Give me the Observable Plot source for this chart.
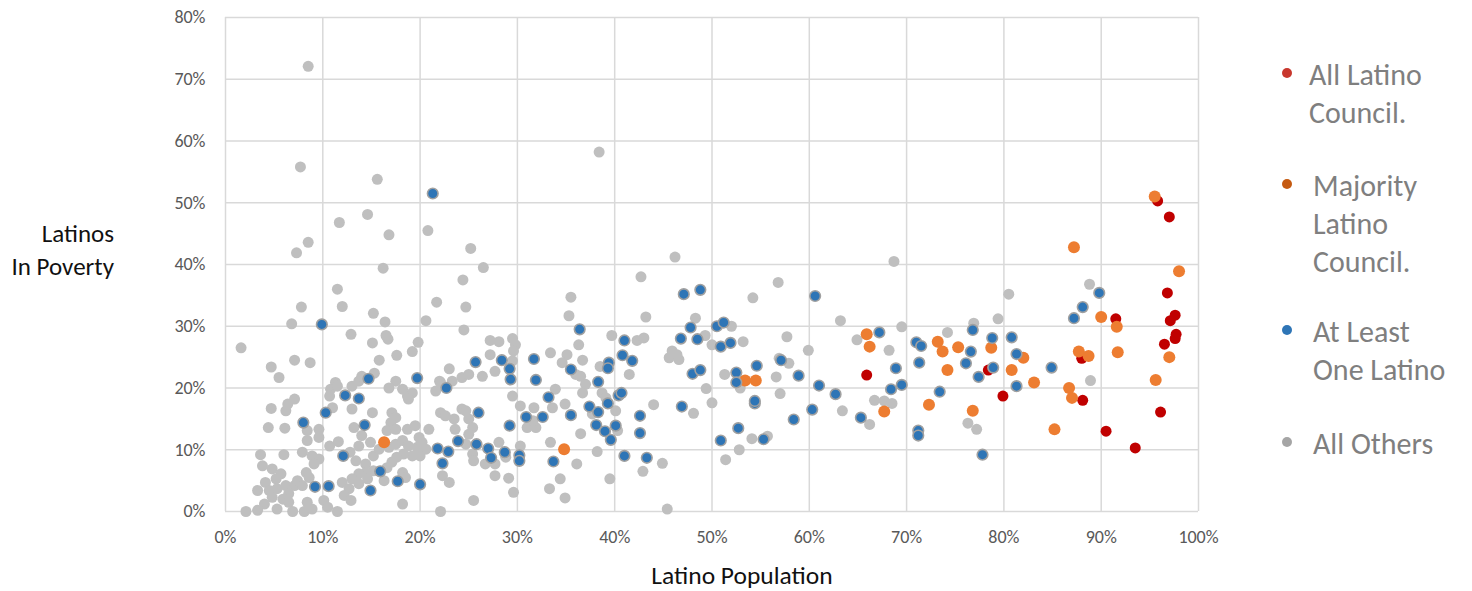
<!DOCTYPE html>
<html>
<head>
<meta charset="utf-8">
<script src="https://cdn.jsdelivr.net/npm/d3@7"></script>
<script src="https://cdn.jsdelivr.net/npm/@observablehq/plot@0.6"></script>
<style>
  html, body { margin: 0; padding: 0; background: #fff; }
  body { width: 1472px; height: 591px; overflow: hidden; font-family: Carlito, Calibri, Lato, "Open Sans", sans-serif; }
  #wrap { position: relative; width: 1472px; height: 591px; }
  #chart { position: absolute; left: 0; top: 0; }
  .ytitle { position: absolute; right: calc(1472px - 114px); top: 217px; text-align: right; font-size: 25px; line-height: 33px; color: #111; white-space: nowrap; }
  .xtitle { position: absolute; left: 742px; top: 559px; transform: translateX(-50%); font-size: 25.5px; line-height: 33px; color: #111; white-space: nowrap; }
  .leg { position: absolute; left: 1278px; font-size: 30px; line-height: 38px; color: #7f7f7f; }
  .leg .b { position: absolute; left: 4px; width: 10px; height: 10px; border-radius: 50%; }
  .leg .t { position: absolute; left: 31px; white-space: nowrap; }
</style>
</head>
<body>
<div id="wrap">
  <div id="chart"></div>
  <div class="ytitle">Latinos<br>In Poverty</div>
  <div class="xtitle">Latino Population</div>
  <div id="legend"></div>
</div>
<script>
// ---- Data (percent values: [Latino Population, Latinos In Poverty]) ----
const xTicks = [0, 10, 20, 30, 40, 50, 60, 70, 80, 90, 100];
const yTicks = [0, 10, 20, 30, 40, 50, 60, 70, 80];

const seriesNames = ["All Latino Council.", "Majority Latino Council.", "At Least One Latino", "All Others"];

const allLatino = [
  [65.9,22.1],[95.8,50.3],[97.0,47.7],[96.8,35.4],[97.6,31.8],[97.1,30.9],[97.7,28.7],[97.6,28.0],
  [96.5,27.1],[91.5,31.2],[88.0,24.8],[78.4,22.9],[79.9,18.7],[88.1,18.0],[96.1,16.1],[90.5,13.0],[93.5,10.3]
];

const majorityLatino = [
  [16.3,11.2],[34.8,10.1],[53.4,21.2],[54.5,21.2],[65.9,28.7],[66.2,26.7],[67.7,16.2],[72.3,17.3],
  [73.2,27.5],[73.7,25.9],[74.2,22.9],[75.3,26.6],[95.5,51.0],[87.2,42.8],[98.0,38.9],[90.0,31.5],
  [91.6,29.9],[91.7,25.8],[97.0,25.0],[87.7,25.9],[88.7,25.2],[95.6,21.3],[78.7,26.5],[82.0,24.9],
  [80.8,22.9],[83.1,20.9],[86.7,20.0],[87.0,18.4],[76.8,16.3],[85.2,13.3]
];

const atLeastOne = [
  [9.9,30.3],[14.7,21.5],[19.7,21.6],[22.7,20.0],[12.3,18.8],[13.7,18.3],[10.3,16.0],[8.0,14.4],
  [14.3,14.0],[23.9,11.4],[21.8,10.2],[22.9,9.7],[22.3,7.8],[12.1,9.0],[15.9,6.5],[17.7,4.9],
  [20.0,4.4],[9.2,4.0],[10.6,4.1],[14.9,3.4],[21.3,51.5],
  [47.1,35.2],[48.8,35.9],[36.4,29.5],[41.0,27.7],[46.8,28.0],[47.8,29.8],[48.5,27.9],[50.5,30.0],
  [51.2,30.6],[25.7,24.2],[28.4,24.5],[29.2,23.1],[29.3,21.4],[31.7,24.7],[31.9,21.3],[35.5,23.0],
  [38.3,21.0],[39.4,24.1],[39.3,23.2],[40.8,25.3],[41.8,24.4],[48.0,22.3],[48.8,22.9],[46.9,17.0],
  [33.2,18.5],[37.4,17.0],[38.3,16.1],[39.3,17.5],[40.4,18.8],[40.7,19.2],[26.0,16.0],[30.9,15.3],
  [32.6,15.3],[35.5,15.6],[29.2,13.9],[38.1,14.0],[39.0,13.0],[40.1,13.9],[39.6,11.6],[42.6,15.5],
  [42.6,12.7],[25.8,10.9],[27.0,10.2],[27.3,8.7],[28.7,9.6],[30.2,9.1],[30.2,8.2],[33.7,8.1],
  [41.0,9.0],[43.3,8.7],
  [60.6,34.9],[50.9,26.7],[51.9,27.3],[57.1,24.5],[54.6,23.6],[52.5,22.5],[52.5,20.9],[58.9,22.0],
  [61.0,20.4],[62.7,19.0],[54.4,17.5],[54.4,17.9],[60.3,16.5],[58.4,14.9],[52.7,13.5],[50.9,11.5],
  [55.3,11.7],[65.3,15.2],[67.2,29.0],[68.9,23.2],[68.4,19.8],[69.5,20.5],[73.4,19.4],[71.0,27.4],
  [71.5,26.8],[71.3,24.1],[71.2,13.1],[71.2,12.3],
  [76.8,29.4],[76.6,25.9],[76.1,24.0],[77.4,21.8],[78.8,28.1],[78.9,23.3],[80.8,28.2],[81.3,25.5],
  [81.3,20.3],[84.9,23.3],[77.8,9.2],[87.2,31.3],[88.1,33.1],[89.8,35.4]
];

const allOthers = [
  [8.5,72.1],[7.7,55.8],[38.4,58.2],[15.6,53.8],[11.7,46.8],[14.6,48.1],[16.8,44.8],[20.8,45.5],
  [25.2,42.6],[8.5,43.6],[7.3,41.9],[46.2,41.2],[16.2,39.4],[26.5,39.5],
  [24.4,37.5],[11.5,36.0],[7.8,33.1],[12.0,33.2],[21.7,33.9],[24.7,33.1],[15.2,32.1],[16.4,30.7],
  [6.8,30.4],[20.6,30.9],[24.5,29.4],[12.9,28.7],[16.5,28.5],[16.7,27.9],[15.1,27.3],[19.8,27.4],
  [1.6,26.5],[19.2,25.9],[17.6,25.3],[7.1,24.5],[8.7,24.1],[4.7,23.4],[15.8,24.5],[23.0,23.1],
  [5.5,21.7],[15.3,22.4],[22.0,21.1],[24.3,21.7],[11.3,20.9],[17.5,21.1],[23.3,21.1],[25.0,22.2],
  [10.8,19.8],[11.5,20.3],[10.7,18.7],[7.1,18.2],[6.4,17.4],[6.2,16.3],[4.7,16.7],[11.0,16.8],
  [4.4,13.6],[6.1,13.5],[8.4,13.1],[9.6,13.3],[9.6,12.0],[8.4,11.5],[10.7,10.6],[11.6,11.3],
  [3.6,9.2],[6.0,9.2],[7.9,9.6],[8.9,9.0],[9.6,8.5],[9.1,7.7],[3.8,7.4],[4.8,6.9],[5.7,6.1],
  [5.2,5.3],[4.1,4.7],[3.3,3.4],[4.5,3.4],[5.3,3.7],[6.2,4.2],[7.1,4.2],[7.4,5.0],[8.3,6.3],
  [8.6,5.5],[7.9,4.2],[6.5,2.9],[5.9,2.0],[4.8,2.3],[4.0,1.2],[3.3,0.2],[2.1,0.0],[5.3,0.4],
  [6.5,1.5],[6.9,0.0],[8.1,0.0],[8.9,0.4],[8.4,1.5],[10.1,1.8],[10.5,0.7],[11.5,0.0],[12.0,4.7],
  [12.7,3.7],[12.2,2.6],[12.9,1.8],
  [13.0,20.3],[13.7,21.1],[14.0,21.9],[16.8,20.0],[18.2,19.8],[18.7,18.7],[19.2,19.2],[18.8,18.2],
  [21.6,19.5],[22.1,20.9],[13.0,16.6],[15.1,16.0],[13.2,13.6],[17.1,16.0],[17.5,15.2],[17.0,14.4],
  [16.6,13.1],[17.5,13.3],[18.7,13.3],[19.5,13.9],[14.0,12.3],[14.9,11.2],[13.7,10.6],[12.8,9.6],
  [13.4,8.2],[14.4,7.7],[15.2,9.0],[15.8,10.1],[16.8,10.4],[17.5,10.9],[18.2,11.5],[18.8,10.6],
  [19.7,10.4],[20.2,11.2],[20.6,10.1],[20.0,9.0],[19.2,9.0],[18.3,9.3],[17.6,8.8],[17.1,8.0],
  [16.6,7.1],[15.2,6.6],[14.4,6.3],[13.7,6.1],[13.0,5.3],[13.7,4.5],[14.6,5.3],[16.3,5.0],
  [18.2,6.3],[18.5,5.5],[18.2,1.2],[19.9,12.0],[20.9,13.3],[22.1,16.0],[22.6,15.5],[23.6,13.3],
  [24.3,16.6],[23.5,15.0],[22.3,5.8],[23.0,4.7],[25.0,15.0],[25.4,13.6],[25.5,1.8],[22.1,0.0],
  [42.7,38.0],[35.5,34.7],[35.3,31.7],[43.2,31.5],[27.2,27.7],[28.1,27.5],[29.5,28.0],[29.8,27.0],
  [29.6,26.0],[27.2,25.4],[27.7,22.7],[26.4,21.9],[29.5,24.4],[33.4,25.7],[35.1,25.4],[34.6,24.1],
  [36.3,27.0],[36.7,24.5],[36.0,22.2],[36.5,21.9],[39.7,28.5],[42.3,27.7],[43.0,28.1],[38.5,23.5],
  [41.5,22.2],[37.0,20.6],[36.7,19.2],[33.9,19.8],[34.9,17.4],[33.6,16.8],[31.7,16.8],[30.3,17.1],
  [29.5,18.7],[31.0,13.6],[31.9,13.6],[31.6,14.7],[38.7,19.2],[39.1,18.4],[40.1,16.3],[37.7,15.8],
  [40.3,13.1],[44.0,17.3],[48.1,15.9],[49.4,19.9],[50.0,17.6],[45.9,26.0],[45.6,24.9],[46.4,25.4],
  [46.6,24.6],[48.3,31.3],[49.3,28.5],[50.0,27.0],[24.7,16.3],[25.0,12.5],[24.7,10.9],[25.4,9.3],
  [25.5,8.2],[26.7,7.7],[27.7,7.7],[27.7,5.8],[29.1,5.4],[29.6,3.1],[28.8,8.8],[28.1,11.2],
  [30.3,10.6],[33.4,11.2],[36.5,12.6],[36.1,7.7],[38.2,9.7],[34.4,5.3],[33.3,3.7],[34.9,2.2],
  [39.5,5.3],[42.9,6.5],[44.9,7.8],[45.4,0.4],
  [68.7,40.5],[56.8,37.1],[54.2,34.6],[63.2,30.9],[69.5,29.9],[74.2,29.0],[52.0,30.0],[53.2,27.5],
  [57.7,28.3],[59.9,26.1],[64.9,27.8],[68.2,26.1],[56.9,24.8],[57.9,24.0],[56.6,21.8],[51.3,22.2],
  [52.9,20.0],[57.0,19.1],[63.4,16.3],[66.7,18.0],[67.7,17.9],[68.5,17.5],[66.2,14.1],[54.1,11.8],
  [55.7,12.2],[52.8,10.0],[51.4,8.4],
  [76.9,30.5],[80.5,35.2],[79.4,31.2],[88.8,36.8],[88.9,21.2],[76.3,14.3],[77.2,13.3]
];

// ---- Styles ----
const markerColors = {red: "#c00000", orange: "#ed7d31", blue: "#2e75b6", gray: "#bfbfbf"};
const legendColors = ["#c8372d", "#c55a11", "#2e75b6", "#a5a5a5"];
const fmt = d => d + "%";

const chart = Plot.plot({
  width: 1472,
  height: 591,
  marginLeft: 225,
  marginRight: 274,
  marginTop: 17,
  marginBottom: 80,
  style: {fontFamily: "Carlito, Calibri, Lato, 'Open Sans', sans-serif", fontSize: "18px", background: "transparent", overflow: "visible"},
  x: {domain: [0, 100], label: null},
  y: {domain: [0, 80], label: null},
  marks: [
    Plot.gridX(xTicks, {stroke: "#d9d9d9", strokeOpacity: 1, strokeWidth: 1.5}),
    Plot.gridY(yTicks, {stroke: "#d9d9d9", strokeOpacity: 1, strokeWidth: 1.5}),
    Plot.axisX({ticks: xTicks, tickFormat: fmt, tickSize: 0, tickPadding: 19, fill: "#595959", label: null}),
    Plot.axisY({ticks: yTicks, tickFormat: fmt, tickSize: 0, tickPadding: 20, fill: "#595959", label: null}),
    Plot.dot(allOthers, {x: d => d[0], y: d => d[1], r: 5.5, fill: markerColors.gray, stroke: "none"}),
    Plot.dot(allLatino, {x: d => d[0], y: d => d[1], r: 5.5, fill: markerColors.red, stroke: "none"}),
    Plot.dot(majorityLatino, {x: d => d[0], y: d => d[1], r: 6, fill: markerColors.orange, stroke: "none"}),
    Plot.dot(atLeastOne, {x: d => d[0], y: d => d[1], r: 5.3, fill: markerColors.blue, stroke: "#a0a0a0", strokeWidth: 1.6})
  ]
});
document.getElementById("chart").appendChild(chart);

// ---- Legend (HTML, right side) ----
const legendLines = [["All Latino", "Council."], ["Majority", "Latino", "Council."], ["At Least", "One Latino"], ["All Others"]];
const legendTops = [56, 167, 313, 425];
const legendIndent = [31, 35, 35, 35];
const legend = document.getElementById("legend");
seriesNames.forEach((name, i) => {
  const div = document.createElement("div");
  div.className = "leg";
  div.style.top = legendTops[i] + "px";
  div.setAttribute("title", name);
  const b = document.createElement("span");
  b.className = "b";
  b.style.background = legendColors[i];
  b.style.top = "12px";
  div.appendChild(b);
  const t = document.createElement("span");
  t.className = "t";
  t.style.left = legendIndent[i] + "px";
  t.innerHTML = legendLines[i].join("<br>");
  div.appendChild(t);
  legend.appendChild(div);
});
</script>
</body>
</html>
